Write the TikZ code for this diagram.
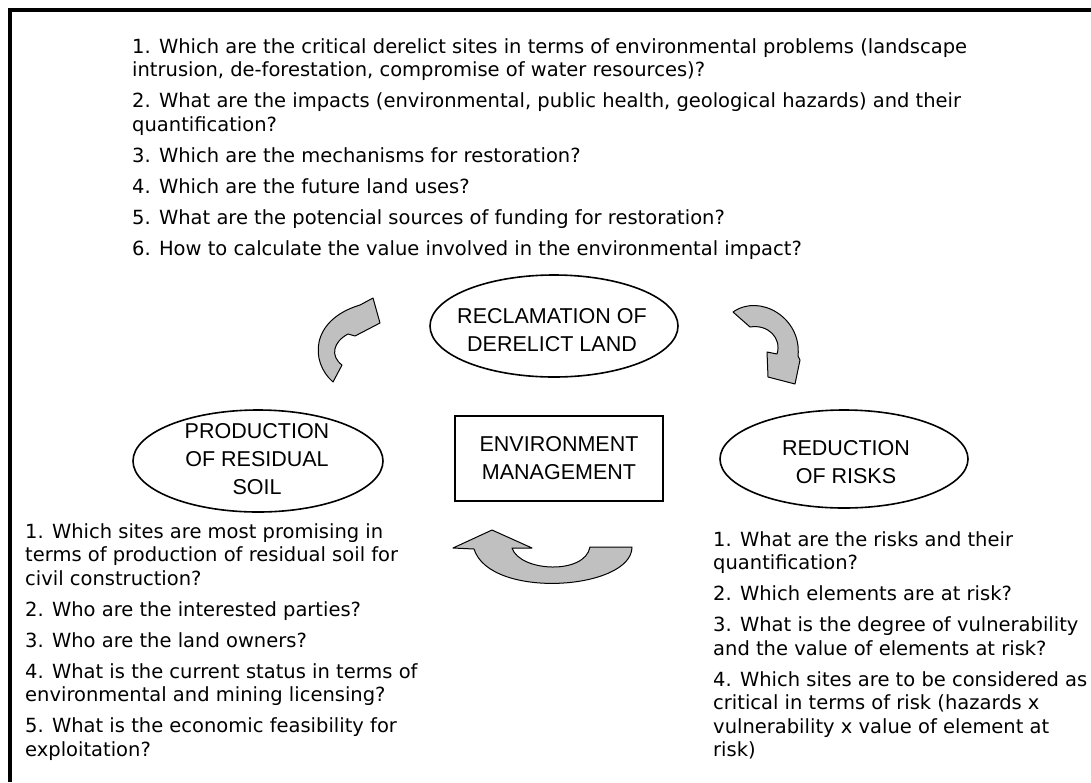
\documentclass[tikz,border=0pt]{standalone}
\usepackage{fontspec}
\setmainfont{DejaVu Sans}
\newfontfamily\labelfont{Liberation Sans}
\usetikzlibrary{shapes.geometric}
\definecolor{arrowgray}{RGB}{192,192,192}
\begin{document}
\begin{tikzpicture}[x=1pt,y=-1pt,
  qtext/.style={anchor=north west, align=left, inner sep=0pt, font=\fontsize{19.5}{23.5}\selectfont},
  oval/.style={draw, ellipse, line width=1.6pt, inner sep=0pt},
  ovaltext/.style={align=center, inner sep=0pt, font=\labelfont\fontsize{21.5}{28}\selectfont},
  mgmtbox/.style={draw, rectangle, line width=1.2pt, inner sep=0pt},
  curvearrow/.style={draw, fill=arrowgray, line width=1pt, line join=round}]
\useasboundingbox (0,0) rectangle (1091,782);
% frame
\draw[line width=4pt] (9.5,782) -- (9.5,9.5) -- (1091,9.5);
% top questions
\node[qtext] (topq) at (132,38) {1. Which are the critical derelict sites in terms of environmental problems (landscape\\
intrusion, de-forestation, compromise of water resources)?\\[7.5pt]
2. What are the impacts (environmental, public health, geological hazards) and their\\
quantification?\\[7.5pt]
3. Which are the mechanisms for restoration?\\[7.5pt]
4. Which are the future land uses?\\[7.5pt]
5. What are the potencial sources of funding for restoration?\\[7.5pt]
6. How to calculate the value involved in the environmental impact?};
% ellipses and box
\node[oval, minimum width=248pt, minimum height=102pt] (recl) at (554,326) {};
\node[ovaltext] (recltext) at (552,330) {RECLAMATION OF\\DERELICT LAND};
\node[oval, minimum width=248pt, minimum height=98pt] (redu) at (844,459) {};
\node[ovaltext] (redutext) at (846,462) {REDUCTION\\OF RISKS};
\node[oval, minimum width=250pt, minimum height=102pt] (prod) at (258,461) {};
\node[ovaltext] (prodtext) at (257,459) {PRODUCTION\\OF RESIDUAL\\SOIL};
\node[mgmtbox, minimum width=208pt, minimum height=85pt] (mgmt) at (559,458.5) {};
\node[ovaltext] (mgmttext) at (mgmt.center) {ENVIRONMENT\\MANAGEMENT};
% curved arrows
\draw[curvearrow] (333,382) .. controls (310,362) and (310,320) .. (360,305)
  -- (373,298) -- (380,323) -- (355,336) -- (348,334)
  .. controls (333,342) and (330,356) .. (342,365) -- cycle;
\draw[curvearrow] (733,312) .. controls (760,293) and (802,318) .. (798,356)
  -- (800,360) -- (795,384) -- (768,377) -- (767,352) -- (777,354)
  .. controls (782,338) and (768,324) .. (750,327) -- cycle;
\draw[curvearrow] (632,547) .. controls (632,590) and (490,600) .. (474,549)
  -- (453,548) -- (492,530) -- (532,548) -- (512,548)
  .. controls (520,572) and (585,575) .. (590,547) -- cycle;
% left questions
\node[qtext] (leftq) at (25,523) {1. Which sites are most promising in\\
terms of production of residual soil for\\
civil construction?\\[7.5pt]
2. Who are the interested parties?\\[7.5pt]
3. Who are the land owners?\\[7.5pt]
4. What is the current status in terms of\\
environmental and mining licensing?\\[7.5pt]
5. What is the economic feasibility for\\
exploitation?};
% right questions
\node[qtext] (rightq) at (713,531) {1. What are the risks and their\\
quantification?\\[7.5pt]
2. Which elements are at risk?\\[7.5pt]
3. What is the degree of vulnerability\\
and the value of elements at risk?\\[7.5pt]
4. Which sites are to be considered as\\
critical in terms of risk (hazards x\\
vulnerability x value of element at\\
risk)};
\end{tikzpicture}
\end{document}
